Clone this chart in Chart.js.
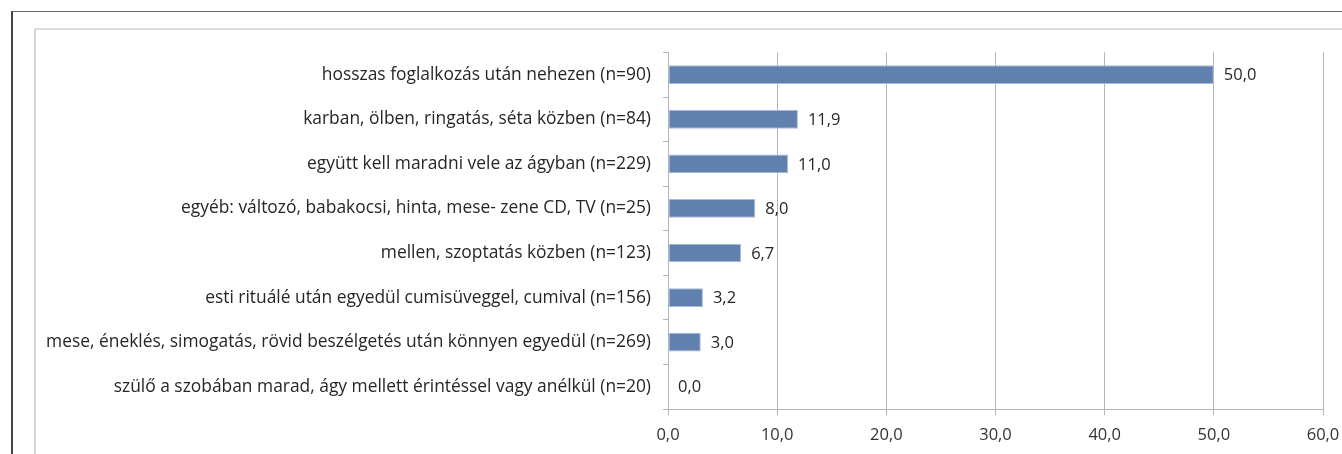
<!DOCTYPE html>
<html>
<head>
<meta charset="utf-8">
<script src="https://cdn.jsdelivr.net/npm/chart.js@4/dist/chart.umd.min.js"></script>
<style>
  body { margin: 0; background: #fff; width: 1342px; height: 454px; overflow: hidden; position: relative; }
  #frame { position: absolute; left: 11px; top: 11px; width: 1400px; height: 500px;
           border-left: 2px solid #444; border-top: 1px solid #666; }
  #box { position: absolute; left: 34px; top: 28px; width: 1400px; height: 500px;
         border-left: 2px solid #d6d6d6; border-top: 2px solid #dcdcdc; }
  #wrap { position: absolute; left: 36px; top: 30px; width: 1306px; height: 424px; }
</style>
</head>
<body>
<div id="frame"></div>
<div id="box"></div>
<div id="wrap"><canvas id="barChart"></canvas></div>
<script>
var categories = [
  "hosszas foglalkozás után nehezen (n=90)",
  "karban, ölben, ringatás, séta közben (n=84)",
  "együtt kell maradni vele az ágyban (n=229)",
  "egyéb: változó, babakocsi, hinta, mese- zene CD, TV (n=25)",
  "mellen, szoptatás közben (n=123)",
  "esti rituálé után egyedül cumisüveggel, cumival (n=156)",
  "mese, éneklés, simogatás, rövid beszélgetés után könnyen egyedül (n=269)",
  "szülő a szobában marad, ágy mellett érintéssel vagy anélkül (n=20)"
];
var percents = [50.0, 11.9, 11.0, 8.0, 6.7, 3.2, 3.0, 0.0];
var xTicks = [0, 10, 20, 30, 40, 50, 60];

var labelFont = "'Open Sans', 'Liberation Sans', sans-serif";

function huNum(v) {
  return v.toFixed(1).replace('.', ',');
}

// value labels next to each bar
var valueLabels = {
  id: 'valueLabels',
  afterDatasetsDraw: function (chart) {
    var ctx = chart.ctx;
    var meta = chart.getDatasetMeta(0);
    ctx.save();
    ctx.font = '16.5px ' + labelFont;
    ctx.fillStyle = '#262626';
    ctx.textAlign = 'left';
    ctx.textBaseline = 'middle';
    meta.data.forEach(function (bar, i) {
      ctx.fillText(huNum(percents[i]), bar.x + 10, bar.y + 1);
    });
    ctx.restore();
  }
};

var chart = new Chart(document.getElementById('barChart'), {
  type: 'bar',
  data: {
    labels: categories,
    datasets: [{
      data: percents,
      backgroundColor: '#6080ae',
      borderColor: '#a8badb',
      borderWidth: 1,
      borderSkipped: false,
      categoryPercentage: 1,
      barPercentage: 0.42
    }]
  },
  options: {
    indexAxis: 'y',
    responsive: true,
    maintainAspectRatio: false,
    animation: false,
    layout: { padding: { top: 18, right: 0, left: 0, bottom: 0 } },
    plugins: { legend: { display: false }, tooltip: { enabled: false } },
    scales: {
      x: {
        min: 0,
        max: 60,
        afterBuildTicks: function (scale) {
          scale.ticks = xTicks.map(function (v) { return { value: v }; });
        },
        afterFit: function (scale) {
          scale.height = 45;
          scale.paddingRight = 19;
        },
        grid: { color: '#b5b5b5', lineWidth: 1, tickLength: 6 },
        border: { color: '#b5b5b5' },
        ticks: {
          color: '#333',
          font: { family: labelFont, size: 16.5 },
          padding: 10,
          maxRotation: 0,
          callback: function (v) { return huNum(v); }
        }
      },
      y: {
        afterFit: function (scale) { scale.width = 632; },
        grid: { drawOnChartArea: false, color: '#b5b5b5', tickLength: 5, offset: true },
        border: { color: '#b5b5b5' },
        ticks: {
          color: '#262626',
          font: { family: labelFont, size: 17.4 },
          padding: 12,
          autoSkip: false
        }
      }
    }
  },
  plugins: [valueLabels]
});
</script>
</body>
</html>
